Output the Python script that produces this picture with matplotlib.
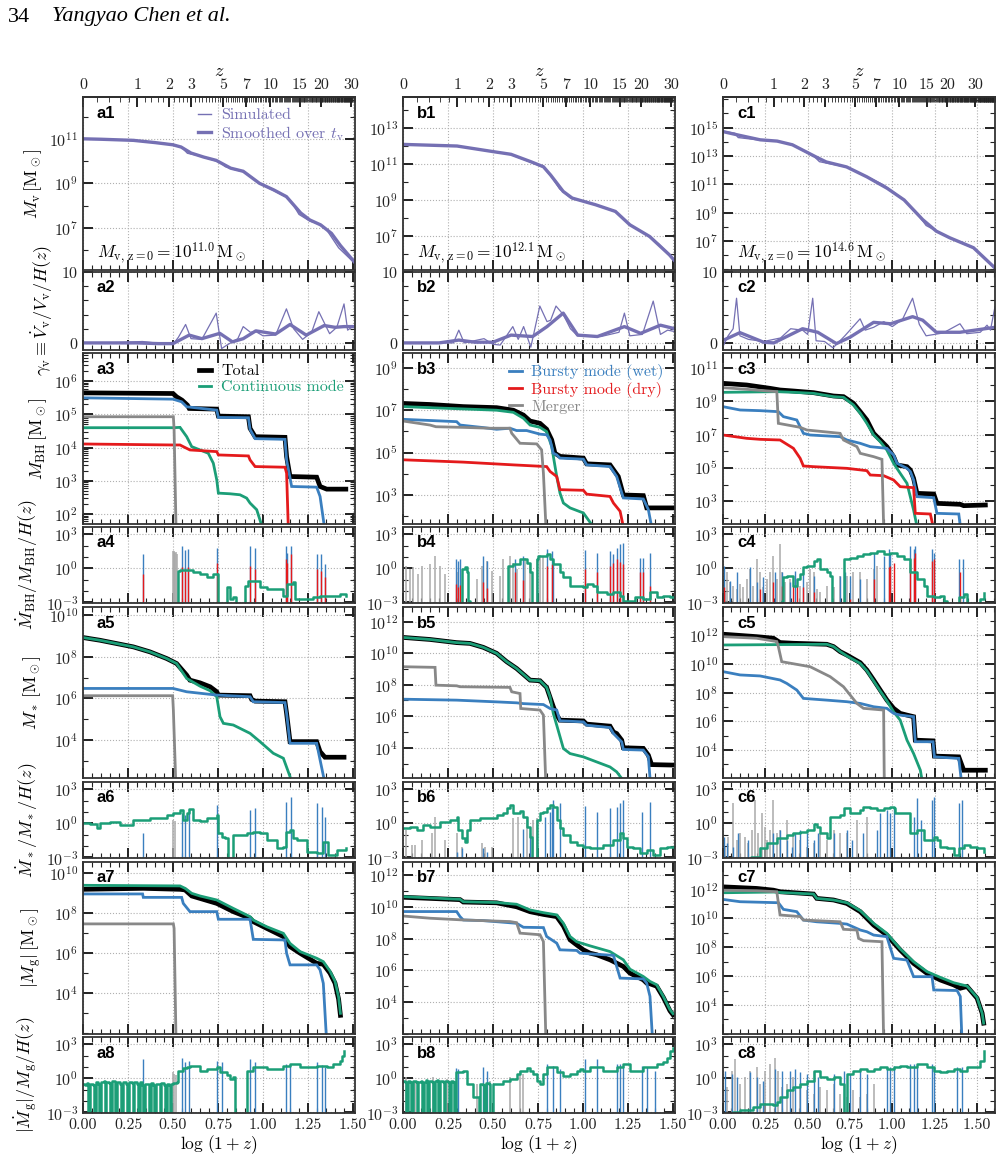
import numpy as np
import matplotlib.pyplot as plt
from matplotlib.ticker import FixedLocator, LogLocator, MultipleLocator, NullFormatter, FormatStrFormatter

plt.rcParams['font.family'] = 'serif'
plt.rcParams['font.serif'] = ['cmr10', 'DejaVu Serif']
plt.rcParams['mathtext.fontset'] = 'cm'
plt.rcParams['axes.formatter.use_mathtext'] = True
plt.rcParams['axes.unicode_minus'] = False

PURPLE = '#7570b3'
GREEN = '#1b9e77'
BLUE = '#3a7fbf'
RED = '#e41a1c'
GRAY = '#888888'
LGRAY = '#aaaaaa'

# ---------------- data: x = log(1+z), y = log10 of the quantity ----------------
# halo mass (row 1)
a1_smooth = [(0, 11.0), (0.1, 10.98), (0.28, 10.93), (0.4, 10.83), (0.5, 10.73), (0.545, 10.63), (0.6, 10.36),
             (0.67, 10.18), (0.74, 10.03), (0.82, 9.68), (0.89, 9.54), (0.98, 9.0), (1.06, 8.7), (1.13, 8.4),
             (1.21, 7.66), (1.26, 7.35), (1.32, 7.13), (1.38, 6.75), (1.43, 6.2), (1.51, 5.44)]
a1_sim = [(0, 11.0), (0.28, 10.93), (0.5, 10.75), (0.55, 10.6), (0.58, 10.35), (0.64, 10.25), (0.7, 10.1),
          (0.76, 9.95), (0.79, 9.75), (0.84, 9.62), (0.9, 9.5), (0.98, 9.0), (1.13, 8.38), (1.17, 8.0), (1.2, 7.6),
          (1.26, 7.3), (1.32, 7.15), (1.35, 6.95), (1.42, 6.1), (1.51, 5.4)]
b1_smooth = [(0, 12.07), (0.3, 11.98), (0.5, 11.67), (0.6, 11.52), (0.71, 11.11), (0.78, 10.83), (0.82, 10.37),
             (0.89, 9.46), (0.94, 9.09), (1.07, 8.72), (1.18, 8.35), (1.26, 7.61), (1.37, 6.96), (1.48, 5.94),
             (1.51, 5.6)]
b1_sim = [(0, 12.07), (0.3, 11.98), (0.5, 11.68), (0.6, 11.5), (0.7, 11.12), (0.78, 10.8), (0.83, 10.2),
          (0.87, 9.6), (0.93, 9.1), (1.07, 8.72), (1.17, 8.4), (1.22, 8.0), (1.27, 7.55), (1.36, 7.0), (1.42, 6.55),
          (1.48, 5.95), (1.51, 5.55)]
c1_smooth = [(0, 14.72), (0.1, 14.45), (0.22, 14.14), (0.32, 14.05), (0.41, 13.79), (0.55, 12.93), (0.61, 12.58),
             (0.73, 12.23), (0.85, 11.53), (0.97, 10.72), (1.07, 9.9), (1.18, 8.51), (1.26, 7.7), (1.34, 7.23),
             (1.48, 6.53), (1.607, 5.1)]
c1_sim = [(0, 14.75), (0.07, 14.6), (0.09, 14.3), (0.22, 14.12), (0.32, 14.06), (0.41, 13.8), (0.54, 12.95),
          (0.57, 12.6), (0.73, 12.22), (0.85, 11.55), (0.95, 10.95), (0.99, 10.6), (1.07, 9.9), (1.15, 8.9),
          (1.2, 8.1), (1.26, 7.72), (1.34, 7.22), (1.48, 6.5), (1.607, 5.05)]
halo_mass_z0 = ['11.0', '12.1', '14.6']

# halo growth rate gamma_v (row 2, linear)
a2_smooth = [(0, 0), (0.3, 0), (0.42, -0.1), (0.5, -0.1), (0.59, 1.1), (0.66, 0.6), (0.76, 1.35), (0.83, 0.15),
             (0.89, 0.6), (0.96, 1.7), (1.07, 1.25), (1.15, 2.6), (1.24, 1.1), (1.34, 2.45), (1.4, 2.2),
             (1.45, 2.3), (1.51, 2.3)]
a2_sim = [(0, 0), (0.2, 0.05), (0.33, 0.2), (0.4, 0), (0.5, -0.2), (0.53, 0.8), (0.57, 2.6), (0.6, 0.6),
          (0.66, 0.5), (0.74, 4.2), (0.77, -0.8), (0.8, -0.3), (0.86, 0.6), (0.89, 2.3), (0.93, 1.5), (0.96, 1.6),
          (1.0, 1.0), (1.07, 1.1), (1.13, 4.8), (1.17, 2.0), (1.22, 0.5), (1.27, 1.5), (1.31, 4.4), (1.37, 1.3),
          (1.41, 2.2), (1.45, 5.5), (1.47, 1.8), (1.51, 2.5)]
b2_smooth = [(0, 0), (0.2, 0), (0.31, 0.4), (0.4, 0.1), (0.5, 0.1), (0.6, 1.1), (0.72, 0.9), (0.8, 2.3),
             (0.89, 4.2), (0.97, 1.1), (1.08, 0.9), (1.23, 2.3), (1.32, 1.35), (1.43, 2.5), (1.51, 2.0)]
b2_sim = [(0, 0), (0.28, 0), (0.31, 1.8), (0.34, 0), (0.45, 0.6), (0.5, -0.2), (0.54, -0.3), (0.61, 2.3),
          (0.64, 0.5), (0.67, 2.3), (0.71, -0.6), (0.76, 5.2), (0.8, 3.0), (0.82, 3.2), (0.85, 5.2), (0.89, 4.0),
          (0.93, 2.0), (0.97, 1.0), (1.1, 0.9), (1.2, 1.5), (1.23, 4.2), (1.26, 1.0), (1.33, 1.2), (1.39, 5.9),
          (1.43, 1.2), (1.47, 1.8), (1.51, 1.6)]
c2_smooth = [(0, 0.35), (0.1, 1.45), (0.24, 0.1), (0.3, 0), (0.47, 2.0), (0.56, 1.5), (0.67, -0.1), (0.75, 0.8),
             (0.89, 2.9), (0.99, 2.7), (1.12, 3.7), (1.18, 3.2), (1.26, 1.5), (1.4, 1.5), (1.607, 2.2)]
c2_sim = [(0, -0.5), (0.03, 1.0), (0.06, 2.0), (0.08, 6.3), (0.1, 1.0), (0.15, 0.5), (0.24, 0.2), (0.34, 0.7),
          (0.4, 2.0), (0.47, 1.8), (0.5, 1.2), (0.53, 6.3), (0.55, 0.3), (0.6, 0.2), (0.65, -0.7), (0.72, 1.0),
          (0.81, 3.4), (0.84, 1.8), (0.89, 2.2), (0.95, 3.0), (1.0, 2.3), (1.06, 3.3), (1.12, 6.3), (1.16, 2.6),
          (1.2, 1.0), (1.3, 1.4), (1.4, 2.7), (1.44, 1.3), (1.52, 1.5), (1.56, 2.5), (1.58, 1.8), (1.607, 5.1)]

# black hole mass (row 3)
a3_total = [(0, 5.65), (0.5, 5.63), (0.52, 5.53), (0.55, 5.43), (0.58, 5.28), (0.59, 5.18), (0.743, 5.16),
            (0.752, 4.95), (0.919, 4.93), (0.928, 4.58), (0.956, 4.33), (1.122, 4.31), (1.131, 3.73), (1.15, 3.13),
            (1.298, 3.11), (1.317, 2.83), (1.354, 2.75), (1.46, 2.75)]
a3_cont = [(0, 4.6), (0.5, 4.6), (0.539, 4.61), (0.576, 4.33), (0.604, 4.03), (0.65, 3.93), (0.696, 3.83),
           (0.724, 3.53), (0.743, 3.03), (0.752, 2.63), (0.817, 2.61), (0.872, 2.58), (0.909, 2.48), (0.928, 2.33),
           (0.965, 2.13), (1.002, 1.5)]
a3_wet = [(0, 5.5), (0.5, 5.46), (0.548, 5.38), (0.576, 5.23), (0.743, 5.13), (0.752, 4.91), (0.919, 4.9),
          (0.928, 4.55), (0.956, 4.27), (1.122, 4.25), (1.131, 3.63), (1.159, 2.83), (1.298, 2.81), (1.317, 2.53),
          (1.344, 1.5)]
a3_dry = [(0, 4.11), (0.5, 4.08), (0.539, 4.08), (0.557, 4.03), (0.594, 3.93), (0.743, 3.88), (0.752, 3.78),
          (0.919, 3.75), (0.928, 3.63), (0.956, 3.43), (1.122, 3.41), (1.131, 3.23), (1.141, 1.5)]
a3_merger = [(0, 4.93), (0.502, 4.93), (0.506, 4.55), (0.517, 1.5)]
b3_total = [(0, 7.32), (0.15, 7.27), (0.335, 7.17), (0.52, 7.12), (0.613, 7.0), (0.669, 6.77), (0.706, 6.49),
            (0.761, 6.38), (0.798, 6.1), (0.826, 5.6), (0.844, 4.97), (0.872, 4.82), (1.002, 4.74), (1.02, 4.47),
            (1.15, 4.42), (1.196, 3.87), (1.224, 3.0), (1.335, 2.97), (1.354, 2.39), (1.5, 2.39)]
b3_cont = [(0, 7.17), (0.15, 7.12), (0.335, 7.06), (0.52, 7.0), (0.613, 6.9), (0.669, 6.62), (0.706, 6.3),
           (0.761, 6.19), (0.798, 5.99), (0.826, 5.29), (0.854, 3.87), (0.872, 3.09), (0.891, 2.62), (0.928, 2.39),
           (1.002, 2.15), (1.057, 1.5)]
b3_wet = [(0, 6.57), (0.298, 6.46), (0.317, 6.3), (0.446, 6.18), (0.52, 6.1), (0.594, 6.15), (0.631, 6.04),
          (0.687, 6.04), (0.761, 5.87), (0.798, 5.84), (0.817, 5.6), (0.835, 4.97), (0.854, 4.89), (0.872, 4.74),
          (1.002, 4.69), (1.02, 4.42), (1.15, 4.34), (1.187, 3.87), (1.224, 2.86), (1.335, 2.81), (1.363, 2.31),
          (1.381, 1.5)]
b3_dry = [(0, 4.66), (0.335, 4.55), (0.613, 4.42), (0.798, 4.34), (0.817, 4.11), (0.854, 3.87), (0.872, 3.25),
          (1.002, 3.22), (1.02, 3.04), (1.15, 2.93), (1.169, 2.62), (1.206, 2.23), (1.224, 1.5)]
b3_merger = [(0, 6.49), (0.15, 6.3), (0.183, 6.22), (0.335, 6.19), (0.483, 6.15), (0.594, 6.15), (0.604, 5.91),
             (0.65, 5.44), (0.743, 5.41), (0.77, 5.13), (0.78, 4.03), (0.794, 1.5)]
c3_total = [(0, 10.08), (0.14, 9.98), (0.278, 9.78), (0.337, 9.68), (0.416, 9.62), (0.535, 9.52), (0.653, 9.32),
            (0.712, 9.28), (0.771, 8.88), (0.811, 8.38), (0.85, 7.88), (0.89, 7.08), (0.929, 6.68), (0.968, 6.28),
            (1.008, 5.68), (1.028, 5.18), (1.087, 5.08), (1.107, 4.88), (1.126, 4.38), (1.146, 3.48),
            (1.245, 3.44), (1.264, 2.88), (1.402, 2.82), (1.422, 2.74), (1.55, 2.78)]
c3_cont = [(0, 9.54), (0.318, 9.58), (0.416, 9.54), (0.535, 9.48), (0.653, 9.28), (0.712, 9.24), (0.771, 8.78),
           (0.811, 8.28), (0.85, 7.68), (0.89, 6.98), (0.929, 6.58), (0.968, 6.08), (1.008, 5.28), (1.047, 4.68),
           (1.087, 4.08), (1.126, 2.48), (1.146, 1.5)]
c3_wet = [(0, 8.68), (0.101, 8.48), (0.219, 8.44), (0.327, 8.38), (0.357, 8.08), (0.436, 7.88), (0.475, 7.08),
          (0.515, 6.98), (0.692, 6.88), (0.732, 6.68), (0.811, 6.48), (0.87, 6.28), (0.968, 6.18), (1.008, 5.78),
          (1.028, 5.28), (1.087, 4.98), (1.107, 4.78), (1.126, 4.28), (1.146, 3.28), (1.245, 3.22),
          (1.264, 2.28), (1.393, 2.24), (1.402, 1.5)]
c3_dry = [(0, 6.98), (0.14, 6.78), (0.219, 6.72), (0.337, 6.68), (0.416, 6.18), (0.456, 5.58), (0.475, 5.12),
          (0.535, 5.08), (0.732, 4.98), (0.85, 4.84), (0.87, 4.58), (0.949, 4.54), (1.008, 4.28), (1.047, 3.88),
          (1.126, 3.82), (1.136, 2.28), (1.225, 2.24), (1.241, 1.5)]
c3_merger = [(0, 9.82), (0.14, 9.72), (0.318, 9.58), (0.327, 7.68), (0.456, 7.44), (0.495, 7.28), (0.692, 7.08),
             (0.712, 6.68), (0.791, 6.28), (0.811, 5.88), (0.89, 5.68), (0.939, 5.52), (0.949, 1.5)]

# black hole specific growth rate (row 4)
a4_cont = [(0.525, -4), (0.527, -0.24), (0.54, -0.1), (0.576, -0.1), (0.594, -0.13), (0.613, -0.36), (0.65, -0.51),
           (0.687, -0.8), (0.724, -0.51), (0.743, -0.51), (0.748, -4), (0.795, -4), (0.798, -1.68), (0.817, -2.7),
           (0.835, -2.56), (0.85, -2.56), (0.852, -4), (0.898, -4), (0.9, -1.53), (0.919, -1.09), (0.983, -1.68),
           (1.02, -1.82), (1.113, -2.41), (1.131, -1.39), (1.169, -1.24), (1.178, -2.7), (1.243, -2.7),
           (1.28, -2.56), (1.317, -2.41), (1.372, -2.41), (1.428, -2.26), (1.46, -2.4)]
a4_wet = [(0.331, 1.24), (0.548, 1.98), (0.567, 1.63), (0.585, 1.68), (0.746, 1.83), (0.928, 1.98), (0.956, 1.83),
          (1.128, 1.98), (1.135, 1.39), (1.154, 1.98), (1.298, 1.25), (1.32, 1.25), (1.344, 0.37)]
a4_dry = [(0.331, -0.51), (0.548, 0.08), (0.567, -0.06), (0.585, 0.13), (0.746, 0.51), (0.928, 0.22),
          (0.956, -0.06), (1.128, 0.81), (1.135, 0.5), (1.154, 1.25), (1.298, -0.06), (1.32, -0.2), (1.344, -0.8)]
a4_merger = [(0.5, 1.5), (0.504, 1.45), (0.508, 1.5), (0.512, 1.4), (0.516, 1.45), (0.52, 1.3)]
b4_cont = [(0.32, -4), (0.326, -0.01), (0.344, 0.08), (0.354, -0.36), (0.363, -2.85), (0.37, -4), (0.58, -4),
           (0.585, 0.22), (0.613, 0.37), (0.65, 0.81), (0.669, 0.81), (0.687, 0.51), (0.706, -0.36), (0.715, -4),
           (0.74, -4), (0.743, 0.81), (0.752, 1.1), (0.78, 1.1), (0.798, 1.25), (0.817, 0.81), (0.835, 0.37),
           (0.872, -0.36), (0.891, -0.8), (0.928, -1.53), (1.002, -1.68), (1.02, -1.39), (1.057, -1.53),
           (1.076, -2.12), (1.131, -2.26), (1.169, -2.12), (1.206, -2.41), (1.224, -2.85), (1.28, -4),
           (1.289, -2.56), (1.335, -2.7), (1.372, -2.12), (1.409, -2.56), (1.446, -2.41), (1.483, -2.56),
           (1.51, -2.5)]
b4_wet = [(0.294, 0.81), (0.304, 0.66), (0.317, 0.81), (0.446, 1.1), (0.465, 0.66), (0.622, 0.81), (0.665, 1.1),
          (0.798, 1.68), (0.826, 1.54), (0.835, 0.81), (1.011, 1.63), (1.076, 1.39), (1.15, 1.54), (1.165, 1.25),
          (1.187, 1.83), (1.206, 2.12), (1.224, 2.21), (1.317, 0.95), (1.335, 0.95), (1.372, 1.39)]
b4_dry = [(0.294, -1.39), (0.304, -1.68), (0.317, -1.5), (0.446, -1.24), (0.465, -1.77), (0.622, -0.36),
          (0.665, -1.0), (0.798, 0.22), (0.826, 0.37), (1.011, -0.09), (1.076, -0.36), (1.15, 0.22), (1.165, 0.51),
          (1.187, 0.81), (1.206, 0.6), (1.224, 0.37), (1.317, -0.36), (1.335, -0.36), (1.372, -1.53)]
b4_merger = [(0.017, 0.22), (0.039, -0.06), (0.057, 0.08), (0.085, -0.51), (0.104, 0.22), (0.15, 0.37),
             (0.178, 1.1), (0.206, 0.22), (0.233, -0.51), (0.298, -0.36), (0.409, -0.95), (0.437, 0.22),
             (0.465, 0.66), (0.493, -0.22), (0.539, -0.65), (0.557, 0.81), (0.594, 1.1), (0.613, 0.51),
             (0.631, -0.06), (0.678, 0.95), (0.706, 0.51), (0.743, 0.81), (0.761, 1.16), (0.78, 1.1)]
c4_cont = [(0.337, -4), (0.347, -2.85), (0.357, -0.8), (0.377, -0.65), (0.416, -1.53), (0.436, -0.95),
           (0.456, -0.51), (0.475, 0.08), (0.495, 0.22), (0.535, 0.66), (0.554, 0.81), (0.574, -0.06),
           (0.613, -0.36), (0.633, -0.65), (0.643, -4), (0.702, -4), (0.712, 0.81), (0.751, 0.95), (0.791, 1.1),
           (0.83, 1.25), (0.87, 1.39), (0.909, 1.54), (0.949, 1.25), (0.988, 1.39), (1.028, 1.1), (1.067, 0.81),
           (1.107, -0.36), (1.146, -0.95), (1.185, -1.53), (1.205, -2.41), (1.245, -2.56), (1.284, -2.41),
           (1.304, -2.85), (1.323, -4), (1.383, -4), (1.393, -2.56), (1.422, -2.26), (1.442, -4), (1.5, -4),
           (1.521, -2.7), (1.54, -2.2)]
c4_wet = [(0.006, 0.22), (0.041, -1.09), (0.081, -0.36), (0.16, 0.08), (0.199, -1.24), (0.239, -0.8),
          (0.308, -0.36), (0.347, -0.36), (0.396, -1.24), (0.426, -0.22), (0.475, -0.06), (0.535, -0.65),
          (0.692, -0.65), (0.722, -0.36), (0.751, -0.65), (0.811, -0.95), (0.89, 1.39), (0.949, 1.1),
          (0.978, 1.68), (0.988, 1.39), (1.107, 1.98), (1.126, 1.68), (1.136, 1.98), (1.237, 1.68),
          (1.245, 1.39), (1.393, 0.81), (1.418, 0.81)]
c4_dry = [(0.006, -1.68), (0.219, -1.82), (0.298, -1.24), (0.347, -1.53), (0.416, -1.53), (0.436, -1.53),
          (0.475, -1.68), (0.535, -2.12), (0.751, -2.7), (0.89, -0.95), (0.978, 0.08), (0.988, 0.22),
          (1.008, 0.51), (1.107, 0.51), (1.126, 0.95), (1.136, 1.39), (1.237, 0.66), (1.245, 0.81),
          (1.402, -0.36)]
c4_merger = [(0.012, -2.12), (0.022, -0.36), (0.041, -1.24), (0.061, -1.53), (0.081, -1.82), (0.101, -1.39),
             (0.12, -1.68), (0.14, -0.95), (0.16, -0.06), (0.179, -1.53), (0.199, 0.81), (0.219, -0.36),
             (0.239, -1.68), (0.258, -0.95), (0.278, -0.36), (0.298, 1.1), (0.318, -0.95), (0.337, 2.12),
             (0.347, -0.36), (0.367, -1.24), (0.396, -0.95), (0.456, -1.53), (0.495, -1.24), (0.515, -0.06),
             (0.535, -0.36), (0.554, -1.82), (0.574, -2.12), (0.613, -1.53), (0.653, -1.68), (0.692, -0.65),
             (0.732, -0.65), (0.771, -0.36), (0.811, -0.36), (0.85, -0.95), (0.89, -0.06), (0.909, 0.22)]

# stellar mass (row 5)
a5_total = [(0, 8.93), (0.094, 8.8), (0.28, 8.48), (0.372, 8.24), (0.465, 7.92), (0.52, 7.68), (0.576, 7.12),
            (0.594, 6.88), (0.65, 6.75), (0.706, 6.56), (0.743, 6.32), (0.752, 6.16), (0.928, 6.13), (0.937, 5.95),
            (0.956, 5.87), (1.122, 5.84), (1.131, 5.28), (1.15, 3.92), (1.298, 3.92), (1.317, 3.44),
            (1.344, 3.17), (1.45, 3.17)]
a5_cont = [(0, 8.93), (0.094, 8.8), (0.28, 8.48), (0.372, 8.24), (0.465, 7.92), (0.52, 7.68), (0.576, 6.96),
           (0.65, 6.59), (0.706, 6.37), (0.743, 6.08), (0.761, 5.12), (0.78, 4.8), (0.835, 4.72), (0.928, 4.32),
           (0.983, 3.92), (1.057, 3.36), (1.113, 3.12), (1.15, 2.24), (1.16, 1.5)]
a5_wet = [(0, 6.48), (0.5, 6.48), (0.576, 6.32), (0.743, 6.16), (0.928, 6.08), (0.946, 5.84), (1.122, 5.8),
          (1.131, 5.28), (1.15, 3.84), (1.298, 3.84), (1.317, 3.04), (1.354, 1.5)]
a5_merger = [(0, 6.13), (0.498, 6.13), (0.502, 5.44), (0.517, 1.5)]
b5_total = [(0, 11.0), (0.15, 10.87), (0.298, 10.67), (0.372, 10.62), (0.446, 10.37), (0.52, 9.99), (0.576, 9.46),
            (0.631, 9.03), (0.706, 8.29), (0.761, 8.25), (0.798, 7.83), (0.835, 6.6), (0.854, 6.07), (0.872, 5.75),
            (1.002, 5.7), (1.02, 5.5), (1.15, 5.37), (1.169, 5.0), (1.187, 4.9), (1.215, 4.48), (1.224, 4.0),
            (1.335, 3.96), (1.363, 3.53), (1.381, 2.93), (1.5, 2.9)]
b5_cont = [(0, 11.0), (0.15, 10.87), (0.298, 10.67), (0.372, 10.62), (0.446, 10.37), (0.52, 9.99), (0.576, 9.46),
           (0.631, 9.03), (0.706, 8.29), (0.761, 8.25), (0.798, 7.83), (0.817, 7.23), (0.835, 6.17), (0.854, 5.43),
           (0.891, 3.95), (0.928, 3.63), (1.002, 3.42), (1.076, 3.1), (1.15, 2.78), (1.187, 2.47), (1.215, 2.05),
           (1.22, 1.5)]
b5_wet = [(0, 7.08), (0.298, 7.02), (0.52, 6.91), (0.631, 6.85), (0.669, 6.8), (0.78, 6.74), (0.817, 6.49),
          (0.854, 6.39), (0.872, 5.71), (1.002, 5.64), (1.02, 5.43), (1.15, 5.28), (1.169, 4.9), (1.215, 4.37),
          (1.224, 3.89), (1.335, 3.85), (1.363, 3.43), (1.376, 1.5)]
b5_merger = [(0, 9.14), (0.178, 9.1), (0.183, 7.97), (0.298, 7.93), (0.317, 7.87), (0.594, 7.83), (0.604, 7.55),
             (0.65, 7.44), (0.654, 6.49), (0.761, 6.39), (0.78, 6.07), (0.794, 1.5)]
c5_total = [(0, 12.05), (0.199, 11.88), (0.298, 11.77), (0.337, 11.47), (0.416, 11.42), (0.613, 11.35),
            (0.653, 11.19), (0.692, 10.84), (0.732, 10.6), (0.811, 10.07), (0.85, 9.56), (0.89, 8.87),
            (0.929, 8.17), (0.968, 7.48), (1.008, 6.9), (1.047, 6.55), (1.087, 6.43), (1.126, 6.32),
            (1.136, 4.69), (1.241, 4.64), (1.249, 3.58), (1.393, 3.53), (1.422, 2.6), (1.55, 2.6)]
c5_cont = [(0, 11.3), (0.613, 11.35), (0.653, 11.19), (0.692, 10.84), (0.732, 10.54), (0.811, 10.02),
           (0.85, 9.51), (0.89, 8.8), (0.929, 8.1), (0.968, 7.43), (1.008, 6.66), (1.047, 6.08), (1.087, 4.69),
           (1.126, 3.76), (1.166, 2.6), (1.182, 1.5)]
c5_wet = [(0, 9.45), (0.101, 9.22), (0.219, 9.15), (0.337, 8.87), (0.377, 8.63), (0.436, 8.17), (0.475, 7.59),
          (0.613, 7.47), (0.732, 7.36), (0.811, 7.24), (0.89, 7.01), (0.968, 6.9), (1.008, 6.55), (1.047, 6.43),
          (1.126, 6.32), (1.136, 4.58), (1.241, 4.58), (1.249, 3.53), (1.393, 3.42), (1.412, 1.5)]
c5_merger = [(0, 11.88), (0.199, 11.77), (0.318, 11.54), (0.327, 11.19), (0.347, 10.14), (0.515, 9.79),
             (0.633, 9.1), (0.712, 8.4), (0.791, 7.24), (0.83, 6.9), (0.949, 6.78), (0.953, 1.5)]

# specific star formation rate (row 6)
a6_cont = [(0, 0.06), (0.04, -0.06), (0.075, -0.44), (0.094, 0.0), (0.15, 0.1), (0.187, 0.15), (0.205, -0.15),
           (0.28, 0.3), (0.372, 0.44), (0.465, 0.74), (0.502, 0.88), (0.539, 1.18), (0.554, 0.29), (0.576, 0.88),
           (0.591, 1.24), (0.613, 0.29), (0.65, 0.24), (0.687, 0.44), (0.743, 0.74), (0.752, -0.88),
           (0.77, -1.18), (0.789, -1.32), (0.807, -4), (0.82, -4), (0.835, -1.03), (0.909, -0.88), (0.946, -0.74),
           (0.983, -0.88), (1.02, -1.47), (1.076, -2.21), (1.113, -2.06), (1.128, -0.74), (1.15, -0.57),
           (1.169, -1.32), (1.187, -1.47), (1.243, -2.5), (1.298, -2.65), (1.335, -1.62), (1.363, -2.79),
           (1.409, -2.35), (1.46, -2.2)]
a6_wet = [(0.331, -0.88), (0.548, 0.88), (0.567, 0.74), (0.591, 1.24), (0.746, 1.62), (0.928, 1.18),
          (0.956, 1.32), (1.128, 1.91), (1.154, 2.35), (1.298, 1.82), (1.326, 1.47), (1.344, 0.59)]
a6_merger = [(0.502, 0.29), (0.51, 0.2)]
b6_cont = [(0, -0.44), (0.039, -0.35), (0.076, -0.59), (0.113, -0.15), (0.15, -0.29), (0.206, 0.15), (0.261, 0.29),
           (0.298, 0.53), (0.307, -0.59), (0.326, -1.32), (0.344, -1.62), (0.354, -0.59), (0.372, 0.29),
           (0.428, 0.44), (0.52, 0.74), (0.557, 0.88), (0.576, 1.32), (0.594, 1.62), (0.609, 0.88), (0.65, 1.12),
           (0.669, 0.59), (0.687, -0.29), (0.706, -1.18), (0.715, -4), (0.733, -4), (0.743, 0.29), (0.761, 0.88),
           (0.78, 1.03), (0.798, 1.32), (0.817, 1.62), (0.835, 1.47), (0.854, 0.29), (0.872, -0.44),
           (0.891, -1.03), (0.928, -1.62), (0.965, -1.91), (1.002, -2.06), (1.039, -2.21), (1.076, -2.21),
           (1.113, -1.91), (1.15, -1.91), (1.169, -1.47), (1.206, -0.88), (1.224, -1.32), (1.243, -2.06),
           (1.28, -2.21), (1.317, -2.65), (1.354, -2.35), (1.391, -2.79), (1.428, -2.21), (1.465, -2.06),
           (1.51, -2.1)]
b6_wet = [(0.298, -2.5), (0.326, -2.21), (0.446, -2.21), (0.465, -2.5), (0.669, -0.53), (0.706, -0.88),
          (0.789, 0.59), (0.817, 1.03), (0.826, 1.47), (0.835, 2.06), (0.872, 1.76), (1.011, 1.53), (1.076, 1.03),
          (1.15, 1.32), (1.187, 1.47), (1.206, 1.76), (1.224, 2.06), (1.326, 1.03), (1.372, 1.91)]
b6_merger = [(0.017, -0.59), (0.048, -1.91), (0.067, -1.91), (0.104, -1.47), (0.159, -0.88), (0.178, 0.59),
             (0.233, -1.47), (0.298, -0.88), (0.326, -2.06), (0.437, -1.76), (0.456, -2.06), (0.493, -2.06),
             (0.613, 0.44), (0.641, 0.59), (0.687, 0.59), (0.724, 0.29), (0.743, 0.44)]
c6_cont = [(0.16, -4), (0.165, -2.94), (0.219, -2.21), (0.258, -1.76), (0.318, -1.32), (0.377, -1.03),
           (0.416, -0.88), (0.456, -0.74), (0.495, -0.59), (0.535, -0.06), (0.554, -0.29), (0.574, -0.88),
           (0.613, -1.32), (0.633, 0.59), (0.692, 0.74), (0.712, 1.32), (0.751, 0.88), (0.811, 1.18), (0.83, 1.47),
           (0.87, 1.32), (0.909, 1.18), (0.949, 1.32), (0.988, 1.47), (1.008, 1.32), (1.018, 0.88), (1.087, 0.88),
           (1.107, -0.88), (1.146, -0.59), (1.185, -1.47), (1.245, -1.18), (1.264, -1.47), (1.284, -2.06),
           (1.323, -2.21), (1.363, -2.79), (1.393, -2.21), (1.422, -1.91), (1.462, -2.06), (1.501, -2.21),
           (1.54, -2.5)]
c6_wet = [(0.006, -1.18), (0.022, -1.76), (0.061, -2.06), (0.091, -0.88), (0.15, -1.47), (0.219, -2.06),
          (0.298, -0.88), (0.337, -0.59), (0.377, -1.47), (0.406, -2.06), (0.426, -0.88), (0.456, -0.59),
          (0.495, -0.88), (0.535, -1.47), (0.564, -0.88), (0.653, -0.88), (0.732, -0.59), (0.761, -1.47),
          (0.83, -0.88), (0.909, -0.59), (0.929, 0.88), (0.968, 1.18), (0.988, 0.88), (1.008, 1.47), (1.126, 0.59),
          (1.146, 2.21), (1.17, 0.29), (1.235, 2.06), (1.245, 2.35), (1.393, 1.76), (1.412, 2.06)]
c6_merger = [(0.012, -2.06), (0.032, -1.18), (0.061, 1.76), (0.081, -1.47), (0.101, -0.88), (0.13, -1.18),
             (0.15, -1.76), (0.17, -0.59), (0.189, 2.06), (0.209, -0.88), (0.229, 0.88), (0.249, -0.29),
             (0.258, -1.47), (0.278, -0.59), (0.298, 2.06), (0.318, -0.88), (0.337, -0.59), (0.377, 0.29),
             (0.416, -0.88), (0.456, -1.47), (0.495, -2.06), (0.535, -1.76), (0.574, -0.88), (0.613, -1.47),
             (0.653, -0.59), (0.692, -0.88), (0.732, -0.88), (0.791, 0.29), (0.85, 0.59)]

# gas mass (row 7)
a7_total = [(0, 9.17), (0.335, 9.22), (0.539, 9.17), (0.567, 9.14), (0.604, 8.84), (0.743, 8.47), (0.835, 8.06),
            (0.928, 7.73), (0.946, 7.56), (1.02, 7.23), (1.113, 6.82), (1.15, 6.32), (1.206, 5.99), (1.298, 5.49),
            (1.335, 5.44), (1.372, 5.0), (1.4, 4.5), (1.42, 3.7), (1.43, 2.9)]
a7_cont = [(0, 9.37), (0.539, 9.34), (0.567, 9.22), (0.604, 8.97), (0.65, 8.84), (0.743, 8.64), (0.835, 8.22),
           (0.928, 7.81), (0.946, 7.64), (1.02, 7.31), (1.113, 6.98), (1.15, 6.48), (1.206, 6.07), (1.298, 5.74),
           (1.335, 5.57), (1.372, 5.1), (1.4, 4.6), (1.42, 3.8), (1.43, 3.0)]
a7_wet = [(0, 8.94), (0.331, 8.94), (0.335, 8.77), (0.548, 8.77), (0.557, 8.47), (0.594, 8.06), (0.743, 8.06),
          (0.752, 7.68), (0.928, 7.68), (0.946, 6.68), (1.122, 6.65), (1.131, 5.99), (1.15, 5.41), (1.298, 5.41),
          (1.317, 5.16), (1.335, 4.49), (1.354, 1.5)]
a7_merger = [(0, 7.45), (0.502, 7.45), (0.506, 7.23), (0.517, 1.5)]
b7_total = [(0, 10.6), (0.317, 10.45), (0.335, 10.3), (0.52, 10.25), (0.631, 10.0), (0.706, 9.69), (0.78, 9.52),
            (0.854, 9.38), (0.891, 8.79), (0.928, 7.92), (0.965, 7.6), (1.002, 7.29), (1.039, 7.08),
            (1.076, 6.98), (1.15, 6.66), (1.224, 6.24), (1.261, 5.82), (1.335, 5.4), (1.354, 5.19), (1.372, 5.15),
            (1.409, 5.0), (1.446, 4.3), (1.483, 3.45), (1.5, 3.2)]
b7_cont = [(0, 10.64), (0.317, 10.47), (0.335, 10.32), (0.52, 10.27), (0.631, 10.16), (0.706, 9.8), (0.78, 9.63),
           (0.854, 9.49), (0.891, 8.96), (0.928, 8.13), (0.965, 7.8), (1.039, 7.54), (1.15, 7.18), (1.224, 6.66),
           (1.261, 6.07), (1.335, 5.61), (1.372, 5.3), (1.409, 5.09), (1.446, 4.36), (1.483, 3.52), (1.5, 3.27)]
b7_wet = [(0, 9.7), (0.298, 9.7), (0.317, 9.38), (0.335, 9.17), (0.446, 9.13), (0.631, 8.96), (0.669, 8.71),
          (0.78, 8.69), (0.798, 8.13), (0.854, 7.71), (0.872, 7.29), (0.965, 7.25), (0.983, 7.08), (1.169, 6.94),
          (1.206, 5.51), (1.335, 5.46), (1.354, 5.19), (1.372, 4.36), (1.387, 1.5)]
b7_merger = [(0, 9.42), (0.15, 9.28), (0.335, 9.17), (0.594, 9.07), (0.631, 9.0), (0.65, 8.34), (0.761, 8.24),
             (0.78, 7.81), (0.794, 1.5)]
c7_total = [(0, 12.18), (0.199, 12.07), (0.298, 11.95), (0.337, 11.84), (0.535, 11.68), (0.554, 11.38),
            (0.653, 11.27), (0.732, 11.03), (0.811, 10.46), (0.89, 9.53), (0.968, 8.84), (1.047, 7.81),
            (1.126, 6.88), (1.205, 6.19), (1.284, 5.73), (1.363, 5.39), (1.402, 5.16), (1.442, 5.28),
            (1.501, 4.47), (1.531, 3.43), (1.54, 2.74)]
c7_cont = [(0, 11.77), (0.298, 11.82), (0.337, 11.79), (0.535, 11.68), (0.554, 11.38), (0.653, 11.27),
           (0.732, 11.08), (0.811, 10.53), (0.89, 9.65), (0.968, 8.96), (1.047, 7.88), (1.126, 7.0), (1.205, 6.31),
           (1.284, 5.91), (1.363, 5.54), (1.442, 5.31), (1.501, 4.52), (1.531, 3.43), (1.54, 2.74)]
c7_wet = [(0, 11.31), (0.101, 11.15), (0.327, 11.08), (0.357, 10.62), (0.436, 10.46), (0.475, 9.88), (0.554, 9.76),
          (0.692, 9.65), (0.732, 9.6), (0.811, 9.19), (0.85, 9.07), (0.89, 8.84), (0.968, 8.73), (1.008, 7.23),
          (1.087, 7.11), (1.126, 5.96), (1.235, 5.96), (1.245, 5.04), (1.383, 5.0), (1.402, 4.59), (1.412, 1.5)]
c7_merger = [(0, 11.95), (0.199, 11.91), (0.318, 11.84), (0.337, 10.23), (0.456, 10.12), (0.475, 9.88),
             (0.692, 9.76), (0.712, 9.24), (0.791, 9.19), (0.801, 8.61), (0.83, 8.45), (0.939, 8.38), (0.949, 1.5)]

# gas specific rate (row 8)
a8_cont = [(0, -0.5), (0.01, -0.62), (0.02, -0.4), (0.03, -4), (0.035, -4), (0.04, -0.5), (0.055, -0.6), (0.06, -4),
           (0.07, -0.3), (0.085, -0.45), (0.09, -4), (0.1, -0.35), (0.115, -0.25), (0.12, -4), (0.13, -0.3),
           (0.145, -0.4), (0.15, -4), (0.16, -0.2), (0.175, -0.35), (0.18, -4), (0.19, -0.3), (0.205, -0.5),
           (0.21, -4), (0.22, -0.3), (0.24, -0.45), (0.245, -4), (0.255, -0.3), (0.27, -0.4), (0.275, -4),
           (0.285, -0.35), (0.3, -0.5), (0.305, -4), (0.315, -0.3), (0.33, -0.6), (0.335, -4), (0.345, -0.45),
           (0.36, -0.5), (0.365, -4), (0.375, -0.4), (0.39, -0.55), (0.395, -4), (0.405, -0.45), (0.42, -0.5),
           (0.425, -4), (0.435, -0.4), (0.45, -0.6), (0.455, -4), (0.465, -0.5), (0.48, -0.55), (0.485, -4),
           (0.49, -0.5), (0.5, -0.4), (0.52, -0.35), (0.53, 0.68), (0.554, 0.88), (0.576, 0.97), (0.594, 1.1),
           (0.65, 0.68), (0.687, 0.83), (0.743, 0.97), (0.761, 0.54), (0.798, 0.33), (0.817, -0.04), (0.835, 0.1),
           (0.844, -4), (0.9, -4), (0.909, 0.68), (0.946, 0.97), (1.02, 0.83), (1.113, 1.12), (1.15, 1.26),
           (1.206, 0.97), (1.298, 1.12), (1.354, 0.97), (1.391, 1.26), (1.428, 1.5), (1.44, 2.0), (1.45, 2.4)]
a8_wet = [(0.331, 1.7), (0.548, 1.84), (0.567, 1.41), (0.591, 1.55), (0.746, 1.55), (0.77, 1.41), (0.928, 1.7),
          (0.956, 1.41), (1.128, 1.26), (1.15, 1.26), (1.298, 1.41), (1.326, 1.2), (1.344, 0.97)]
a8_merger = [(0.5, 0.54), (0.508, 0.4), (0.515, 0.3)]
b8_cont = [(0, -0.25), (0.01, -0.3), (0.015, -4), (0.025, -0.25), (0.04, -0.3), (0.045, -4), (0.055, -0.2),
           (0.07, -0.35), (0.075, -4), (0.085, -0.3), (0.1, -0.2), (0.105, -4), (0.115, -0.3), (0.13, -0.1),
           (0.135, -4), (0.145, -0.2), (0.16, -0.3), (0.165, -4), (0.175, -0.25), (0.19, -0.15), (0.195, -4),
           (0.205, -0.2), (0.22, -0.3), (0.225, -4), (0.235, -0.25), (0.25, -0.3), (0.255, -4), (0.265, -0.2),
           (0.28, -0.3), (0.285, -4), (0.295, 0.6), (0.335, 0.68), (0.354, -0.48), (0.39, -1.64), (0.42, -4),
           (0.43, -0.5), (0.445, -0.6), (0.45, -4), (0.46, -0.4), (0.48, -0.5), (0.485, -4), (0.5, -0.48),
           (0.557, -0.19), (0.594, -0.04), (0.631, 0.39), (0.65, 0.68), (0.687, 0.88), (0.706, 0.68),
           (0.724, 0.39), (0.743, -0.19), (0.761, -0.48), (0.78, 0.39), (0.798, 0.97), (0.854, 0.54),
           (0.891, 0.25), (0.928, 0.39), (0.965, 0.68), (0.983, 0.83), (1.002, 0.68), (1.039, 0.97), (1.076, 0.97),
           (1.113, 0.68), (1.187, 0.97), (1.224, 1.26), (1.261, 0.68), (1.335, 0.97), (1.372, 0.97),
           (1.409, 1.26), (1.446, 1.41), (1.465, 1.84), (1.483, 2.42), (1.5, 2.7)]
b8_wet = [(0.294, 0.91), (0.304, 0.83), (0.446, 0.97), (0.465, 0.68), (0.798, 1.26), (0.835, 1.12), (0.872, 0.83),
          (1.011, 1.7), (1.076, 1.7), (1.187, 1.26), (1.206, 1.26), (1.224, 1.12), (1.326, 1.12), (1.354, 0.97),
          (1.4, 0.68)]
b8_merger = [(0.017, 0.1), (0.067, -0.19), (0.169, 0.1), (0.243, -0.04), (0.409, -0.48), (0.483, -0.19),
             (0.594, 0.1), (0.65, 0.68), (0.669, 0.4)]
c8_cont = [(0.055, -4), (0.061, -3.0), (0.101, -2.8), (0.179, -2.51), (0.219, -2.22), (0.298, -2.36),
           (0.318, -2.07), (0.337, -1.64), (0.377, -1.06), (0.416, -0.77), (0.456, -0.48), (0.495, -0.19),
           (0.535, 0.68), (0.574, 0.1), (0.613, -0.04), (0.653, 0.1), (0.692, -0.48), (0.712, -4), (0.73, -4),
           (0.732, 0.39), (0.771, 0.68), (0.811, 0.83), (0.85, 0.68), (0.89, 0.83), (0.929, 0.97), (0.968, 0.83),
           (1.008, 0.97), (1.047, 1.12), (1.087, 0.97), (1.146, 1.26), (1.205, 0.97), (1.245, 0.68),
           (1.284, 0.59), (1.323, 0.68), (1.363, 0.83), (1.402, 0.68), (1.442, 0.97), (1.481, 0.97),
           (1.521, 1.55), (1.54, 2.42)]
c8_wet = [(0.012, 0.68), (0.051, 0.39), (0.081, 0.1), (0.16, 0.54), (0.199, 0.1), (0.239, -0.19), (0.308, 0.83),
          (0.347, 0.68), (0.396, 0.68), (0.426, 0.83), (0.456, 0.54), (0.495, 0.39), (0.535, 0.68), (0.564, 0.1),
          (0.653, 0.39), (0.712, 0.68), (0.751, 0.39), (0.811, 0.68), (0.85, 0.39), (0.968, 0.97), (0.988, 0.97),
          (1.008, 1.12), (1.107, 1.26), (1.126, 1.26), (1.146, 0.97), (1.235, 1.26), (1.245, 0.97),
          (1.383, 0.97), (1.412, 0.97)]
c8_merger = [(0.022, -0.77), (0.051, 0.68), (0.071, 1.7), (0.101, -0.48), (0.13, 0.1), (0.16, 0.68),
             (0.199, 0.97), (0.219, -0.48), (0.249, 0.68), (0.278, 1.26), (0.308, 1.84), (0.327, 0.68),
             (0.347, -0.77), (0.377, -0.48), (0.416, 0.1), (0.456, -0.77), (0.495, -1.06), (0.535, -1.35),
             (0.574, -0.77), (0.613, -1.06), (0.653, -0.48), (0.692, -1.35), (0.732, -1.64), (0.771, -1.06),
             (0.811, -1.64), (0.85, -1.35), (0.89, -0.48)]

z_ticks = [0, 1, 2, 3, 5, 7, 10, 15, 20, 30]
ylabels = [r'$M_{\rm v}\,[{\rm M_\odot}]$', r'$\gamma_{\rm v}\equiv\dot{V}_{\rm v}/V_{\rm v}/H(z)$',
           r'$M_{\rm BH}\,[{\rm M_\odot}]$', r'$\dot{M}_{\rm BH}/M_{\rm BH}/H(z)$',
           r'$M_*\,[{\rm M_\odot}]$', r'$\dot{M}_*/M_*/H(z)$',
           r'$|M_{\rm g}|\,[{\rm M_\odot}]$', r'$|\dot{M}_{\rm g}|/M_{\rm g}/H(z)$']

# ---------------- layout ----------------
W, H = 1003, 1155
fig = plt.figure(figsize=(W / 100, H / 100), dpi=100)
col_px = [(83, 355), (403, 675), (723, 995)]
row_px = [(97, 270), (272, 350), (353, 524), (527, 603), (607, 778), (782, 858), (862, 1034), (1037, 1113)]
x_max = [1.511, 1.511, 1.607]
mass_ylim = {0: [(5.1, 12.88), (5.1, 14.7), (4.96, 17.16)],
             2: [(1.7, 6.85), (1.63, 9.7), (1.64, 11.9)],
             4: [(2.17, 10.4), (2.08, 12.93), (2.06, 13.94)],
             6: [(1.97, 10.53), (1.99, 12.82), (1.99, 13.9)]}
mass_major = {0: [[7, 9, 11], [7, 9, 11, 13], [7, 9, 11, 13, 15]],
              2: [[2, 3, 4, 5, 6], [3, 5, 7, 9], [3, 5, 7, 9, 11]],
              4: [[4, 6, 8, 10], [4, 6, 8, 10, 12], [4, 6, 8, 10, 12]],
              6: [[4, 6, 8, 10], [4, 6, 8, 10, 12], [4, 6, 8, 10, 12]]}
LEG = dict(frameon=False, handlelength=0.8, handletextpad=0.6, labelspacing=0.1, borderaxespad=0.3,
           fontsize=11.5, labelcolor='linecolor')


def to_xy(pts):
    x, y = np.array(pts, dtype=float).T
    return x, y


def mass_line(ax, pts, color, lw, label=None):
    x, y = to_xy(pts)
    ax.plot(x, 10 ** y, color=color, lw=lw, label=label, solid_joinstyle='miter')


def spikes(ax, pts, color, lw=1.0, alpha=1.0):
    x, y = to_xy(pts)
    ax.vlines(x, 1e-6, 10 ** y, color=color, lw=lw, alpha=alpha)


def log_axis(ax, lo, hi, major):
    ax.set_yscale('log')
    ax.set_ylim(10 ** lo, 10 ** hi)
    ax.yaxis.set_major_locator(FixedLocator([10.0 ** k for k in major]))
    if major[1] - major[0] == 1:
        ax.yaxis.set_minor_locator(LogLocator(base=10, subs=np.arange(2, 10), numticks=30))
    else:
        ax.yaxis.set_minor_locator(LogLocator(base=10, subs=(1.0,), numticks=30))
    ax.yaxis.set_minor_formatter(NullFormatter())


axes = [[None] * 8 for _ in range(3)]
for c in range(3):
    for r in range(8):
        x0, x1 = col_px[c]
        y0, y1 = row_px[r]
        ax = fig.add_axes([x0 / W, 1 - y1 / H, (x1 - x0) / W, (y1 - y0) / H])
        axes[c][r] = ax
        ax.set_xlim(0, x_max[c])
        ax.xaxis.set_major_locator(MultipleLocator(0.25))
        ax.xaxis.set_minor_locator(MultipleLocator(0.05))
        ax.tick_params(which='both', direction='in', top=(r != 0), right=True, labelsize=11.5, colors='#222222')
        ax.tick_params(which='major', length=7, width=1.4)
        ax.tick_params(which='minor', length=3.5, width=0.8)
        for s in ax.spines.values():
            s.set_linewidth(1.3)
            s.set_color('#333333')
        ax.grid(True, which='major', ls=':', color='#b0b0b0', lw=0.8)
        ax.set_axisbelow(True)
        if r == 7:
            ax.xaxis.set_major_formatter(FormatStrFormatter('%.2f'))
            ax.set_xlabel(r'$\log\,(1+z)$', fontsize=12.5, labelpad=1)
        else:
            ax.set_xticklabels([])
        if c == 0:
            ax.set_ylabel(ylabels[r], fontsize=13, labelpad=4)
        h_px = y1 - y0
        ax.text(14 / 272, 1 - 16 / h_px, f'{"abc"[c]}{r + 1}', transform=ax.transAxes, fontsize=12,
                fontweight='bold', family='Liberation Sans', va='center', ha='left')

# halo rows
smooth_sets = [(a1_smooth, a1_sim, a2_smooth, a2_sim), (b1_smooth, b1_sim, b2_smooth, b2_sim),
               (c1_smooth, c1_sim, c2_smooth, c2_sim)]
for c, (sm, sim, gsm, gsim) in enumerate(smooth_sets):
    ax = axes[c][0]
    mass_line(ax, sim, PURPLE, 1.0, 'Simulated')
    mass_line(ax, sm, PURPLE, 2.4, r'Smoothed over $t_{\rm v}$')
    lo, hi = mass_ylim[0][c]
    log_axis(ax, lo, hi, mass_major[0][c])
    ax.text(14 / 272, 17 / 173, r'$M_{\rm v,\,z=0}=10^{%s}\,{\rm M_\odot}$' % halo_mass_z0[c],
            transform=ax.transAxes, fontsize=12.5, va='center', ha='left')
    sec = ax.secondary_xaxis('top', functions=(lambda x: 10 ** np.asarray(x) - 1,
                                               lambda z: np.log10(np.clip(1 + np.asarray(z), 1e-9, None))))
    sec.set_xticks(z_ticks)
    sec.set_xticklabels([str(z) for z in z_ticks])
    sec.xaxis.set_minor_locator(FixedLocator(np.arange(0, 40, 0.2)))
    sec.tick_params(which='both', direction='in', labelsize=11.5, colors='#222222')
    sec.tick_params(which='major', length=7, width=1.4)
    sec.tick_params(which='minor', length=3.5, width=0.6)
    sec.spines['top'].set_linewidth(1.3)
    sec.set_xlabel(r'$z$', fontsize=13, labelpad=2)
    if c == 0:
        ax.legend(loc='upper right', **LEG)
    ax = axes[c][1]
    x, y = to_xy(gsim)
    ax.plot(x, y, color=PURPLE, lw=0.9)
    x, y = to_xy(gsm)
    ax.plot(x, y, color=PURPLE, lw=2.4)
    ax.set_ylim(-1, 10)
    ax.yaxis.set_major_locator(FixedLocator([0, 10]))
    ax.yaxis.set_minor_locator(MultipleLocator(2))

# mass rows (BH, stars, gas)
mass_sets = {2: [(a3_total, a3_cont, a3_wet, a3_dry, a3_merger), (b3_total, b3_cont, b3_wet, b3_dry, b3_merger),
                 (c3_total, c3_cont, c3_wet, c3_dry, c3_merger)],
             4: [(a5_total, a5_cont, a5_wet, None, a5_merger), (b5_total, b5_cont, b5_wet, None, b5_merger),
                 (c5_total, c5_cont, c5_wet, None, c5_merger)],
             6: [(a7_total, a7_cont, a7_wet, None, a7_merger), (b7_total, b7_cont, b7_wet, None, b7_merger),
                 (c7_total, c7_cont, c7_wet, None, c7_merger)]}
for r, sets in mass_sets.items():
    for c, (tot, cont, wet, dry, mer) in enumerate(sets):
        ax = axes[c][r]
        mass_line(ax, tot, 'black', 3.4, 'Total')
        mass_line(ax, cont, GREEN, 2.0, 'Continuous mode')
        mass_line(ax, wet, BLUE, 2.0, 'Bursty mode (wet)')
        if dry is not None:
            mass_line(ax, dry, RED, 2.0, 'Bursty mode (dry)')
        mass_line(ax, mer, GRAY, 2.0, 'Merger')
        lo, hi = mass_ylim[r][c]
        log_axis(ax, lo, hi, mass_major[r][c])
        if r == 2 and c == 0:
            hs, ls = ax.get_legend_handles_labels()
            ax.legend(hs[:2], ls[:2], loc='upper right', **LEG)
        if r == 2 and c == 1:
            hs, ls = ax.get_legend_handles_labels()
            ax.legend(hs[2:], ls[2:], loc='upper right', **LEG)

# specific rate rows
rate_sets = {3: [(a4_cont, a4_wet, a4_dry, a4_merger), (b4_cont, b4_wet, b4_dry, b4_merger),
                 (c4_cont, c4_wet, c4_dry, c4_merger)],
             5: [(a6_cont, a6_wet, None, a6_merger), (b6_cont, b6_wet, None, b6_merger),
                 (c6_cont, c6_wet, None, c6_merger)],
             7: [(a8_cont, a8_wet, None, a8_merger), (b8_cont, b8_wet, None, b8_merger),
                 (c8_cont, c8_wet, None, c8_merger)]}
for r, sets in rate_sets.items():
    for c, (cont, wet, dry, mer) in enumerate(sets):
        ax = axes[c][r]
        spikes(ax, mer, LGRAY, 1.1)
        spikes(ax, wet, BLUE, 1.0)
        if dry is not None:
            spikes(ax, dry, RED, 1.0)
        x, y = to_xy(cont)
        ax.plot(x, 10 ** y, color=GREEN, lw=1.8, drawstyle='steps-post')
        log_axis(ax, -3.05, 3.65, [-3, 0, 3])

fig.text(8 / W, 1 - 17 / H, '34', fontsize=16, family='Liberation Serif', va='center', ha='left')
fig.text(52 / W, 1 - 17 / H, 'Yangyao Chen et al.', fontsize=16, family='Liberation Serif', style='italic',
         va='center', ha='left')

fig.savefig('out.png', dpi=100)
